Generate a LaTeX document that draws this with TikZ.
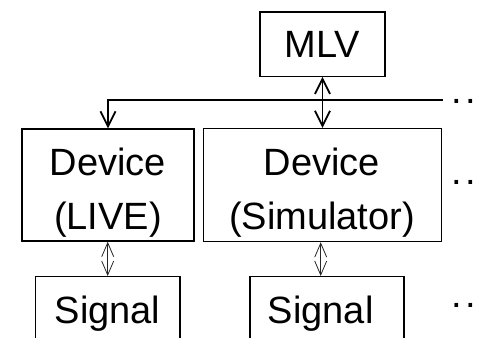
\documentclass[tikz,border=0pt]{standalone}
\usepackage{fontspec}
\setmainfont{Liberation Sans}
\usetikzlibrary{arrows.meta}
\begin{document}
\begin{tikzpicture}[x=1pt,y=-1pt,
  box/.style={draw, line width=1.4pt, inner sep=0pt, rectangle},
  lbl/.style={font=\fontsize{38}{38}\selectfont, inner sep=0pt, anchor=base},
  dots/.style={font=\fontsize{38}{38}\selectfont, inner sep=0pt, anchor=base west},
  bigtip/.tip={Straight Barb[length=15pt,width=15pt]},
  smalltip/.tip={Straight Barb[length=14pt,width=12pt]},
  mainconn/.style={line width=1.8pt},
  thinconn/.style={line width=0.8pt, black!85}]
\useasboundingbox (0,0) rectangle (481,337);
\clip (0,0) rectangle (481,337);
% boxes
\node[box, minimum width=125pt, minimum height=64pt] (mlv) at (322.5,44.2) {};
\node[box, minimum width=172pt, minimum height=112pt] (live) at (108,185) {};
\node[box, minimum width=238.5pt, minimum height=113pt] (sim) at (322.5,185) {};
\node[box, minimum width=144.3pt, minimum height=73.3pt] (sigL) at (107.85,313.35) {};
\node[box, minimum width=154pt, minimum height=73.3pt] (sigR) at (327,313.35) {};
% texts
\node[lbl] (tmlv) at (322,57) {MLV};
\node[lbl] (tlive1) at (108,175) {Device};
\node[lbl] (tlive2) at (108,229) {(LIVE)};
\node[lbl] (tsim1) at (322,175) {Device};
\node[lbl] (tsim2) at (322,229) {(Simulator)};
\node[lbl] (tsigL) at (107.5,323.5) {Signal};
\node[lbl] (tsigR) at (320.7,323.5) {Signal};
% dots
\node[dots] (d1) at (451.7,103) {.\kern3.4pt.};
\node[dots] (d2) at (451.7,184) {.\kern3.4pt.};
\node[dots] (d3) at (451.7,307) {.\kern3.4pt.};
% connectors
\coordinate (hr) at (443,100);
\draw[mainconn, bigtip-bigtip] (mlv.south) -- (sim.north);
\draw[mainconn, -bigtip] (hr) -- (live.north |- hr) -- (live.north);
\coordinate (a1) at (107.7,260);
\coordinate (a2) at (320.7,260);
\draw[thinconn, smalltip-smalltip] (live.south -| a1) -- (sigL.north -| a1);
\draw[thinconn, smalltip-smalltip] (sim.south -| a2) -- (sigR.north -| a2);
\end{tikzpicture}
\end{document}
